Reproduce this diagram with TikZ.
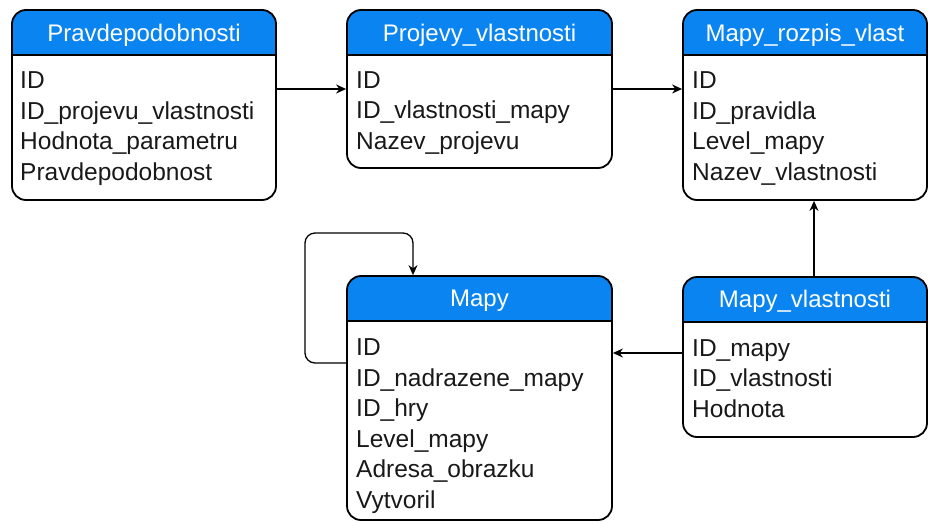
\documentclass[tikz,border=0pt]{standalone}
\usepackage{fontspec}
\setmainfont{Liberation Sans}
\usetikzlibrary{arrows.meta}

\definecolor{headblue}{RGB}{10,132,240}
\definecolor{fieldtext}{RGB}{25,25,25}

\begin{document}
\begin{tikzpicture}[x=1pt, y=-1pt,
    dbtable/.style={draw, line width=1.8pt, rounded corners=14pt, inner sep=0pt,
      path picture={
        \fill[headblue, sharp corners] (path picture bounding box.north west) rectangle ([yshift=-45pt]path picture bounding box.north east);
        \draw[line width=1.8pt, sharp corners] ([yshift=-45pt]path picture bounding box.north west) -- ([yshift=-45pt]path picture bounding box.north east);}},
    dbtitle/.style={text=white, inner sep=0pt, font=\fontsize{24}{28}\selectfont},
    dbfields/.style={anchor=base west, align=left, inner sep=0pt, text=fieldtext, font=\fontsize{24.5}{30.5}\selectfont},
    link/.style={-{Stealth[length=10pt, width=9pt]}, line width=1.3pt}]
    \useasboundingbox (0,0) rectangle (936,522);

    % Tables - top row
    \node[dbtable, minimum width=264pt, minimum height=190pt] (prav) at (144,105) {};
    \node[dbtable, minimum width=265pt, minimum height=158pt] (proj) at (479.5,89) {};
    \node[dbtable, minimum width=244pt, minimum height=190pt] (rozp) at (805,105) {};

    % Tables - bottom row
    \node[dbtable, minimum width=265pt, minimum height=244pt] (mapy) at (479.5,398) {};
    \node[dbtable, minimum width=244pt, minimum height=160pt] (mvl) at (805,357) {};

    % Titles
    \node[dbtitle] (prav-t) at (144,35) {Pravdepodobnosti};
    \node[dbtitle] (proj-t) at (479.5,35) {Projevy\_vlastnosti};
    \node[dbtitle] (rozp-t) at (805,35) {Mapy\_rozpis\_vlast};
    \node[dbtitle] (mapy-t) at (479.5,301) {Mapy};
    \node[dbtitle] (mvl-t) at (805,301) {Mapy\_vlastnosti};

    % Fields (anchored at the baseline of the last line)
    \node[dbfields] (prav-f) at (20,180) {ID\\ID\_projevu\_vlastnosti\\Hodnota\_parametru\\Pravdepodobnost};
    \node[dbfields] (proj-f) at (356,149) {ID\\ID\_vlastnosti\_mapy\\Nazev\_projevu};
    \node[dbfields] (rozp-f) at (692,180) {ID\\ID\_pravidla\\Level\_mapy\\Nazev\_vlastnosti};
    \node[dbfields] (mapy-f) at (356,508) {ID\\ID\_nadrazene\_mapy\\ID\_hry\\Level\_mapy\\Adresa\_obrazku\\Vytvoril};
    \node[dbfields] (mvl-f) at (692,417) {ID\_mapy\\ID\_vlastnosti\\Hodnota};

    % Connections
    \coordinate (loop) at (305,233);
    \draw[link] ([yshift=16pt]prav.east) -- (proj.west);
    \draw[link] (proj.east) -- ([yshift=16pt]rozp.west);
    \draw[link] ([xshift=9pt]mvl.north) -- ([xshift=9pt]rozp.south);
    \draw[link] ([yshift=4pt]mvl.west) -- ([yshift=45pt]mapy.east);
    \draw[link, rounded corners=10pt] ([yshift=35pt]mapy.west) -| (loop) -| ([xshift=-66.5pt]mapy.north);
\end{tikzpicture}
\end{document}
